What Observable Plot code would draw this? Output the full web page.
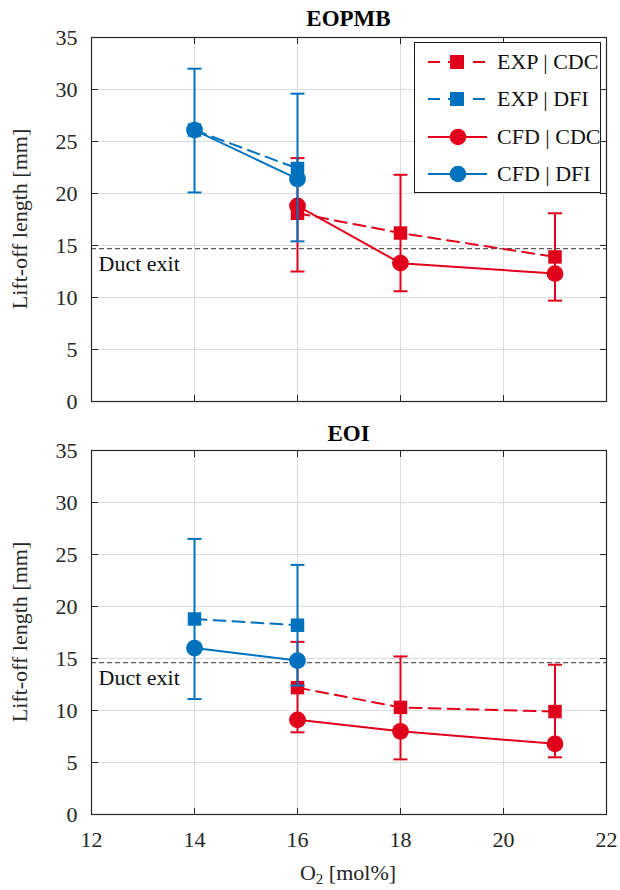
<!DOCTYPE html>
<html><head><meta charset="utf-8">
<script src="https://cdn.jsdelivr.net/npm/d3@7"></script>
<script src="https://cdn.jsdelivr.net/npm/@observablehq/plot@0.6"></script>
<style>
body{margin:0;background:#fff;}
#wrap{position:relative;width:620px;height:890px;color:#262626;font-family:"Liberation Serif",serif;}
.title{font-weight:bold;font-size:23px;text-align:center;width:515px;line-height:1;transform:translateY(-50%);color:#000;}
.ylab{font-size:22px;white-space:nowrap;transform:translate(-50%,-50%) rotate(-90deg);line-height:1;}
.xlab{font-size:22px;white-space:nowrap;transform:translate(-50%,-50%);line-height:1;}
.legend{border:1.5px solid #1a1a1a;background:#fff;box-sizing:border-box;}
.legrow{position:absolute;left:0;height:30px;display:flex;align-items:center;font-size:22px;white-space:nowrap;}
</style></head><body><div id="wrap"></div>
<script>
// ---------- data ----------
const xTicks = [12, 14, 16, 18, 20, 22];
const yTicks = [0, 5, 10, 15, 20, 25, 30, 35];
const panelTitles = ["EOPMB", "EOI"];
const seriesNames = ["EXP | CDC", "EXP | DFI", "CFD | CDC", "CFD | DFI"];
const ductLabel = "Duct exit";

// EOPMB panel
const eopmbDuct = 14.7;
const eopmbExpCdcX = [16, 18, 21];
const eopmbExpCdcY = [18.1, 16.2, 13.9];
const eopmbExpCdcLo = [12.5, 10.6, 9.7];
const eopmbExpCdcHi = [23.4, 21.8, 18.1];
const eopmbExpDfiX = [14, 16];
const eopmbExpDfiY = [26.1, 22.4];
const eopmbExpDfiLo = [20.1, 15.4];
const eopmbExpDfiHi = [32.0, 29.6];
const eopmbCfdCdcX = [16, 18, 21];
const eopmbCfdCdcY = [18.8, 13.3, 12.3];
const eopmbCfdDfiX = [14, 16];
const eopmbCfdDfiY = [26.1, 21.4];

// EOI panel
const eoiDuct = 14.6;
const eoiExpCdcX = [16, 18, 21];
const eoiExpCdcY = [12.2, 10.3, 9.9];
const eoiExpCdcLo = [7.9, 5.3, 5.5];
const eoiExpCdcHi = [16.6, 15.2, 14.4];
const eoiExpDfiX = [14, 16];
const eoiExpDfiY = [18.8, 18.2];
const eoiExpDfiLo = [11.1, 12.4];
const eoiExpDfiHi = [26.5, 24.0];
const eoiCfdCdcX = [16, 18, 21];
const eoiCfdCdcY = [9.1, 8.0, 6.8];
const eoiCfdDfiX = [14, 16];
const eoiCfdDfiY = [16.0, 14.8];

const FONT = '"Liberation Serif", serif';

// ---------- styles ----------
const RED = "#e0001b", BLUE = "#0072bd";
const styles = {
  "EXP | CDC": {color: RED, dash: "12,7", symbol: "square", r: 7.6},
  "EXP | DFI": {color: BLUE, dash: "12,7", symbol: "square", r: 7.6},
  "CFD | CDC": {color: RED, dash: null, symbol: "circle", r: 8.4},
  "CFD | DFI": {color: BLUE, dash: null, symbol: "circle", r: 8.4}
};

function rows(x, y, lo, hi) {
  return x.map((v, i) => ({x: v, y: y[i], lo: lo ? lo[i] : null, hi: hi ? hi[i] : null}));
}

const panels = [
  {title: panelTitles[0], duct: eopmbDuct, series: {
    "EXP | CDC": rows(eopmbExpCdcX, eopmbExpCdcY, eopmbExpCdcLo, eopmbExpCdcHi),
    "EXP | DFI": rows(eopmbExpDfiX, eopmbExpDfiY, eopmbExpDfiLo, eopmbExpDfiHi),
    "CFD | CDC": rows(eopmbCfdCdcX, eopmbCfdCdcY),
    "CFD | DFI": rows(eopmbCfdDfiX, eopmbCfdDfiY)
  }},
  {title: panelTitles[1], duct: eoiDuct, series: {
    "EXP | CDC": rows(eoiExpCdcX, eoiExpCdcY, eoiExpCdcLo, eoiExpCdcHi),
    "EXP | DFI": rows(eoiExpDfiX, eoiExpDfiY, eoiExpDfiLo, eoiExpDfiHi),
    "CFD | CDC": rows(eoiCfdCdcX, eoiCfdCdcY),
    "CFD | DFI": rows(eoiCfdDfiX, eoiCfdDfiY)
  }}
];

const capSymbol = {draw(ctx, size) { const w = Math.sqrt(size / Math.PI); ctx.moveTo(-w, 0); ctx.lineTo(w, 0); }};
const vTickSym = {draw(ctx, size) { const l = Math.sqrt(size / Math.PI); ctx.moveTo(0, 0); ctx.lineTo(0, -l); }};
const vTickSymDown = {draw(ctx, size) { const l = Math.sqrt(size / Math.PI); ctx.moveTo(0, 0); ctx.lineTo(0, l); }};
const hTickSymR = {draw(ctx, size) { const l = Math.sqrt(size / Math.PI); ctx.moveTo(0, 0); ctx.lineTo(l, 0); }};
const hTickSymL = {draw(ctx, size) { const l = Math.sqrt(size / Math.PI); ctx.moveTo(0, 0); ctx.lineTo(-l, 0); }};

const drawOrder = ["EXP | CDC", "CFD | CDC", "EXP | DFI", "CFD | DFI"];

function makePlot(p, opts) {
  const marks = [
    Plot.gridX(xTicks, {stroke: "#dcdcdc", strokeOpacity: 1}),
    Plot.gridY(yTicks, {stroke: "#dcdcdc", strokeOpacity: 1}),
    Plot.ruleY([p.duct], {stroke: "#5a5a5a", strokeWidth: 1.2, strokeDasharray: "5,3"}),
    Plot.text([p.duct], {y: d => d, frameAnchor: "left", text: () => ductLabel, textAnchor: "start", dx: 7, dy: 15, fontSize: 22, fill: "#111", fontFamily: FONT})
  ];
  for (const name of drawOrder) {
    const s = styles[name], d = p.series[name];
    marks.push(Plot.line(d, {x: "x", y: "y", stroke: s.color, strokeWidth: 2, strokeDasharray: s.dash}));
    if (d[0].lo != null) {
      marks.push(Plot.ruleX(d, {x: "x", y1: "lo", y2: "hi", stroke: s.color, strokeWidth: 2}));
      marks.push(Plot.dot(d, {x: "x", y: "lo", symbol: capSymbol, r: 7, stroke: s.color, strokeWidth: 2, fill: "none"}));
      marks.push(Plot.dot(d, {x: "x", y: "hi", symbol: capSymbol, r: 7, stroke: s.color, strokeWidth: 2, fill: "none"}));
    }
    marks.push(Plot.dot(d, {x: "x", y: "y", symbol: s.symbol, r: s.r, fill: s.color, stroke: "none"}));
  }
  // inward tick marks on all four sides
  marks.push(Plot.dot(xTicks, {x: d => d, frameAnchor: "bottom", symbol: vTickSym, r: 6.5, stroke: "#262626", strokeWidth: 1}));
  marks.push(Plot.dot(xTicks, {x: d => d, frameAnchor: "top", symbol: vTickSymDown, r: 6.5, stroke: "#262626", strokeWidth: 1}));
  marks.push(Plot.dot(yTicks, {y: d => d, frameAnchor: "left", symbol: hTickSymR, r: 6.5, stroke: "#262626", strokeWidth: 1}));
  marks.push(Plot.dot(yTicks, {y: d => d, frameAnchor: "right", symbol: hTickSymL, r: 6.5, stroke: "#262626", strokeWidth: 1}));
  marks.push(Plot.axisY(yTicks, {tickSize: 0, tickPadding: 14, label: null, fontSize: 22, fill: "#262626", fontFamily: FONT}));
  if (opts.xLabels) {
    marks.push(Plot.axisX(xTicks, {tickSize: 0, tickPadding: 17, label: null, fontSize: 22, fill: "#262626", fontFamily: FONT}));
  }
  marks.push(Plot.frame({stroke: "#262626", strokeWidth: 1.2}));
  return Plot.plot({
    width: 620,
    height: opts.height,
    marginLeft: 91,
    marginRight: 14,
    marginTop: opts.mt,
    marginBottom: opts.mb,
    x: {domain: [12, 22], axis: null},
    y: {domain: [0, 35], axis: null},
    style: {fontFamily: FONT, fontSize: "22px", background: "#fff", color: "#262626"},
    marks
  });
}

const wrap = document.getElementById("wrap");
function place(el, left, topPx) { el.style.position = "absolute"; el.style.left = left + "px"; el.style.top = topPx + "px"; wrap.appendChild(el); return el; }

const plotTop = makePlot(panels[0], {height: 420, mt: 37, mb: 19, xLabels: false});
place(plotTop, 0, 0);
const plotBot = makePlot(panels[1], {height: 470, mt: 30, mb: 76, xLabels: true});
place(plotBot, 0, 420);

// titles
const t1 = document.createElement("div"); t1.className = "title"; t1.textContent = panels[0].title; place(t1, 91, 18);
const t2 = document.createElement("div"); t2.className = "title"; t2.textContent = panels[1].title; place(t2, 91, 433);

// y labels
for (const cy of [219, 632]) {
  const yl = document.createElement("div"); yl.className = "ylab"; yl.textContent = "Lift-off length [mm]"; place(yl, 20, cy);
}
// x label
const xl = document.createElement("div"); xl.className = "xlab";
xl.innerHTML = 'O<sub style="font-size:15px;vertical-align:-4px;line-height:0">2</sub> [mol%]';
place(xl, 348, 873);

// legend
const leg = document.createElement("div"); leg.className = "legend";
leg.style.width = "187px"; leg.style.height = "151px";
place(leg, 414, 42);
seriesNames.forEach((name, i) => {
  const s = styles[name];
  const row = document.createElement("div"); row.className = "legrow";
  row.style.top = (4 + i * 37.3) + "px";
  const ns = "http://www.w3.org/2000/svg";
  const svg = document.createElementNS(ns, "svg");
  svg.setAttribute("width", 82); svg.setAttribute("height", 30);
  const ln = document.createElementNS(ns, "line");
  ln.setAttribute("x1", 13); ln.setAttribute("x2", s.dash ? 70 : 72); ln.setAttribute("y1", 15); ln.setAttribute("y2", 15);
  ln.setAttribute("stroke", s.color); ln.setAttribute("stroke-width", 2);
  if (s.dash) ln.setAttribute("stroke-dasharray", "12,8,16,9,12");
  svg.appendChild(ln);
  if (s.symbol === "square") {
    const r = document.createElementNS(ns, "rect");
    r.setAttribute("x", 42 - 7); r.setAttribute("y", 15 - 7); r.setAttribute("width", 14); r.setAttribute("height", 14);
    r.setAttribute("fill", s.color); svg.appendChild(r);
  } else {
    const c = document.createElementNS(ns, "circle");
    c.setAttribute("cx", 43); c.setAttribute("cy", 15); c.setAttribute("r", 8.3);
    c.setAttribute("fill", s.color); svg.appendChild(c);
  }
  row.appendChild(svg);
  const tx = document.createElement("span"); tx.textContent = name; tx.style.color = "#111";
  row.appendChild(tx);
  leg.appendChild(row);
});
</script></body></html>
